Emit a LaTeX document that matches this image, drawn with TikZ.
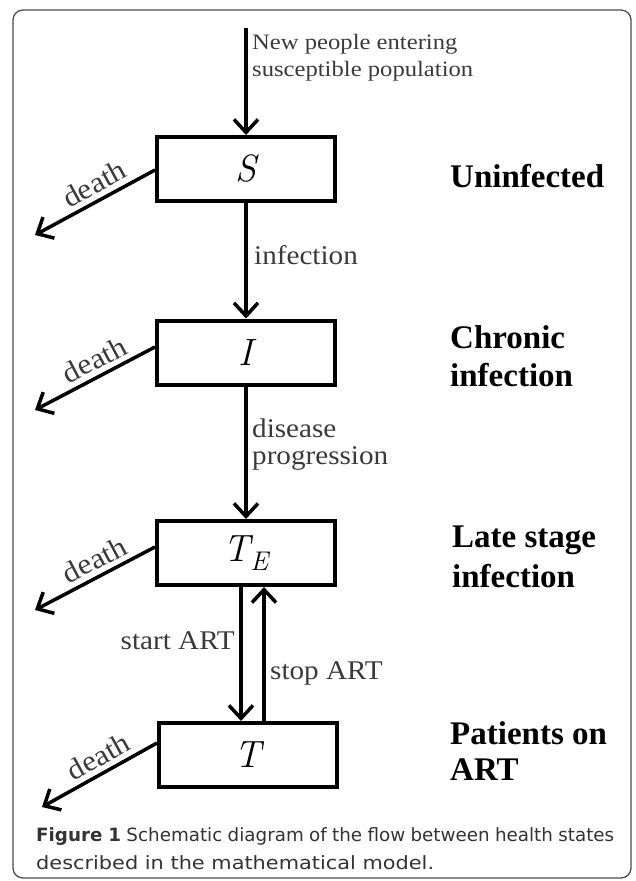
\documentclass[tikz,border=0pt]{standalone}
\usepackage{fontspec}
\setmainfont{Liberation Serif}
\newfontfamily\capfont{DejaVu Sans}
\newfontfamily\capfontwide[FakeStretch=1.14]{DejaVu Sans}
\newfontfamily\lblfont[FakeStretch=1.08]{Liberation Serif}
\newfontfamily\tinyfont[FakeStretch=1.12]{Liberation Serif}
\usetikzlibrary{arrows.meta,calc}
\definecolor{capgray}{HTML}{333333}
\definecolor{lblgray}{HTML}{3A3A3A}
\begin{document}
\begin{tikzpicture}[x=1pt,y=1pt,
  state/.style={draw, line width=4pt, minimum width=178pt, minimum height=64pt, inner sep=0pt, outer sep=2pt,
    font=\fontfamily{lmr}\itshape\fontsize{38}{40}\selectfont},
  flow/.style={line width=3.5pt, -{Straight Barb[length=13pt,width=24pt]}},
  small/.style={inner sep=0pt, text=lblgray, font=\lblfont\fontsize{27}{30}\selectfont},
  tiny/.style={inner sep=0pt, text=lblgray, font=\tinyfont\fontsize{22}{24}\selectfont},
  side/.style={inner sep=0pt, anchor=west, font=\bfseries\fontsize{33}{36}\selectfont},
  deathlbl/.style={pos=0.44, sloped, above=5pt, inner sep=0pt, text=lblgray, font=\lblfont\fontsize{29}{30}\selectfont},
  captxt/.style={anchor=west, inner sep=0pt, text=capgray}
]
\useasboundingbox (0,0) rectangle (635,-881);
\draw[black!70, line width=1.3pt, rounded corners=10pt] (13,-10) rectangle (631,-878);

% states
\node[state] (S)  at (246,-169)   {S};
\node[state] (I)  at (246,-352.5) {I};
\node[state] (TE) at (246,-553)   {T\raisebox{-9pt}{\fontsize{27}{27}\selectfont E}};
\node[state] (T)  at (248,-755)   {T};

% inflow
\coordinate (top) at (246,-28);
\draw[flow] (top) -- (S.north);
\node[tiny, anchor=west] (new1) at (252,-44) {New people entering};
\node[tiny, anchor=west] (new2) at (252,-71) {susceptible population};

% vertical flows
\draw[flow] (S) -- (I);
\node[small, anchor=west] (linf) at (254,-255) {infection};
\draw[flow] (I) -- (TE);
\node[small, anchor=west] (ldis) at (252,-428) {disease};
\node[small, anchor=west] (lprog) at (252,-458) {progression};

\draw[flow] ([xshift=-5pt]TE.south) -- ([xshift=-5pt]TE.south |- T.north);
\draw[flow] ([xshift=18pt]TE.south |- T.north) -- ([xshift=18pt]TE.south);
\node[small, anchor=east] (lstart) at (235,-641) {start ART};
\node[small, anchor=west] (lstop) at (270,-673) {stop ART};

% deaths
\coordinate (dS)  at (35,-235);
\coordinate (dI)  at (35,-410);
\coordinate (dTE) at (35,-610);
\coordinate (dT)  at (42,-807);
\draw[flow] ([yshift=-1pt]S.west) -- (dS) node[deathlbl] {death};
\draw[flow] ([yshift=5.5pt]I.west) -- (dI) node[deathlbl] {death};
\draw[flow] ([yshift=6pt]TE.west) -- (dTE) node[deathlbl] {death};
\draw[flow] ([yshift=12pt]T.west) -- (dT) node[deathlbl] {death};

% side labels
\node[side] (u1) at (450,-176) {Uninfected};
\node[side] (c1) at (450,-337) {Chronic};
\node[side] (c2) at (450,-375) {infection};
\node[side] (l1) at (452,-540) {Late stage};
\node[side] (l2) at (452,-576) {infection};
\node[side] (p1) at (450,-733) {Patients on};
\node[side] (p2) at (450,-770) {ART};

% caption
\node[captxt, font=\capfont\fontsize{18.3}{22}\selectfont] (cap1) at (36,-837)
  {\makebox[578pt][s]{\textbf{Figure 1} Schematic diagram of the flow between health states}};
\node[captxt, font=\capfontwide\fontsize{18.3}{22}\selectfont] (cap2) at (36,-863)
  {described in the mathematical model.};
\end{tikzpicture}
\end{document}
